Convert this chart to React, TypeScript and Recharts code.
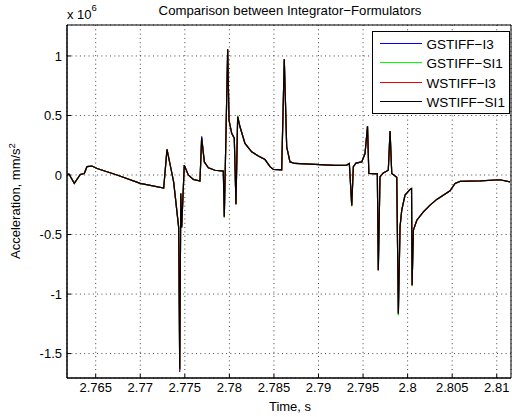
import { CartesianGrid, Line, LineChart, ReferenceArea, XAxis, YAxis } from 'recharts';

// time, s
const time = [
  2.76178, 2.762, 2.7626, 2.76327, 2.76372, 2.76402, 2.76458, 2.76515, 2.76739, 2.77,
  2.77263, 2.773, 2.77348, 2.77375, 2.77431, 2.77443, 2.77455, 2.77465, 2.77494, 2.77539,
  2.77595, 2.7767, 2.77689, 2.77719, 2.77764, 2.77839, 2.77932, 2.77943, 2.77981, 2.77996,
  2.78026, 2.78055, 2.78074, 2.78093, 2.78119, 2.78175, 2.7825, 2.78325, 2.784, 2.78456,
  2.78493, 2.78587, 2.78616, 2.78643, 2.7868, 2.78736, 2.78961, 2.79185, 2.79316, 2.79346,
  2.79373, 2.79391, 2.79421, 2.79485, 2.79522, 2.7955, 2.79565, 2.7966, 2.79671, 2.7969,
  2.79727, 2.79783, 2.79803, 2.79822, 2.79878, 2.79896, 2.79915, 2.79934, 2.79971, 2.80027,
  2.80044, 2.8005, 2.80065, 2.80103, 2.80177, 2.80252, 2.80327, 2.80476, 2.80532, 2.80589,
  2.80813, 2.81036, 2.81149,
];

// acceleration, x 10^6 mm/s^2 (WSTIFF-SI1, drawn on top)
const wstiffSi1 = [
  0.005, 0.008, -0.07, 0.005, 0.013, 0.07, 0.075, 0.055, 0.0, -0.07,
  -0.11, 0.215, 0.04, -0.06, -0.44, -1.63, -0.155, -0.44, 0.083, 0.0,
  -0.037, -0.051, 0.31, 0.11, 0.06, 0.04, 0.033, -0.35, 1.056, 0.46,
  0.35, 0.31, -0.245, 0.49, 0.405, 0.265, 0.195, 0.16, 0.13, 0.07,
  0.047, 0.044, 0.972, 0.237, 0.11, 0.097, 0.089, 0.081, 0.083, 0.097,
  -0.255, 0.07, 0.1, 0.11, 0.18, 0.41, 0.013, 0.01, -0.8, -0.015,
  0.018, 0.04, 0.37, 0.013, -0.02, -1.165, -0.435, -0.295, -0.169, -0.121,
  -0.113, -0.925, -0.463, -0.38, -0.31, -0.253, -0.205, -0.133, -0.071, -0.054,
  -0.049, -0.04, -0.057,
];

// spike tips where the other formulators poke out past the black line
const gstiffI3Tips: Record<number, number> = { 15: -1.655, 22: 0.325, 28: 1.05 };
const gstiffSi1Tips: Record<number, number> = { 27: -0.36, 33: 0.5, 50: -0.265, 65: -1.18, 71: -0.935 };
const wstiffI3Tips: Record<number, number> = { 15: -1.64 };

const gstiffI3 = wstiffSi1.map((v, i) => gstiffI3Tips[i] ?? v);
const gstiffSi1 = wstiffSi1.map((v, i) => gstiffSi1Tips[i] ?? v);
const wstiffI3 = wstiffSi1.map((v, i) => wstiffI3Tips[i] ?? v);

const xTicks = [2.765, 2.77, 2.775, 2.78, 2.785, 2.79, 2.795, 2.8, 2.805, 2.81];
const yTicks = [-1.5, -1, -0.5, 0, 0.5, 1];

const series = [
  { key: 'gstiffI3', name: 'GSTIFF−I3', color: '#0000ff' },
  { key: 'gstiffSi1', name: 'GSTIFF−SI1', color: '#00ff00' },
  { key: 'wstiffI3', name: 'WSTIFF−I3', color: '#ff0000' },
  { key: 'wstiffSi1', name: 'WSTIFF−SI1', color: '#000000' },
];

const data = time.map((t, i) => ({
  t,
  gstiffI3: gstiffI3[i],
  gstiffSi1: gstiffSi1[i],
  wstiffI3: wstiffI3[i],
  wstiffSi1: wstiffSi1[i],
}));

const X_DOMAIN: [number, number] = [2.76178, 2.8116];
const Y_DOMAIN: [number, number] = [-1.705, 1.26];
const FONT = '"Liberation Sans", Arial, sans-serif';

// legend box, drawn in the chart's svg so the sample lines stay crisp
function MatlabLegend() {
  const rows = [43.5, 62.5, 82.5, 101.5];
  return (
    <g>
      <rect x={372.5} y={31.5} width={137} height={82} fill="#fff" stroke="#000" strokeWidth={1} />
      {series.map((s, i) => (
        <g key={s.key}>
          <line x1={380} x2={422} y1={rows[i]} y2={rows[i]} stroke={s.color} strokeWidth={1.2} />
          <text x={426.5} y={rows[i] + 5.3} fontSize={13.5} fontFamily={FONT} fill="#000">
            {s.name}
          </text>
        </g>
      ))}
    </g>
  );
}

export default function App() {
  return (
    <div style={{ position: 'absolute', left: 0, top: 0, width: 512, height: 417, background: '#fff' }}>
      <LineChart width={512} height={417} data={data} margin={{ top: 25, right: 1, bottom: 0, left: 0 }}>
        <CartesianGrid stroke="#444" strokeDasharray="1 3.3" strokeWidth={1} />
        <XAxis
          dataKey="t"
          type="number"
          domain={X_DOMAIN}
          ticks={xTicks}
          allowDataOverflow
          height={39}
          tickSize={-4}
          tickMargin={9}
          stroke="#000"
          tick={{ fill: '#000', fontSize: 13, fontFamily: FONT }}
          tickFormatter={(v: number) => String(v)}
        />
        <YAxis
          type="number"
          domain={Y_DOMAIN}
          ticks={yTicks}
          allowDataOverflow
          width={67}
          tickSize={-4}
          tickMargin={9}
          stroke="#000"
          tick={{ fill: '#000', fontSize: 13, fontFamily: FONT }}
          tickFormatter={(v: number) => String(v)}
        />
        <ReferenceArea x1={X_DOMAIN[0]} x2={X_DOMAIN[1]} y1={Y_DOMAIN[0]} y2={Y_DOMAIN[1]} fill="none" stroke="#000" strokeWidth={1} />
        {series.map((s) => (
          <Line
            key={s.key}
            dataKey={s.key}
            name={s.name}
            stroke={s.color}
            strokeWidth={1.2}
            dot={false}
            type="linear"
            isAnimationActive={false}
          />
        ))}
        <MatlabLegend />
        <text x={290} y={14.5} textAnchor="middle" fontSize={13.2} fontFamily={FONT} fill="#000">
          Comparison between Integrator−Formulators
        </text>
        <text x={67} y={19} fontSize={13} fontFamily={FONT} fill="#000">
          x 10
          <tspan fontSize={9.5} dy={-8.5}>6</tspan>
        </text>
        <text x={290} y={410.5} textAnchor="middle" fontSize={13} fontFamily={FONT} fill="#000">
          Time, s
        </text>
        <text x={0} y={0} transform="translate(19.5 201) rotate(-90)" textAnchor="middle" fontSize={13} fontFamily={FONT} fill="#000">
          Acceleration, mm/s
          <tspan fontSize={9.5} dy={-5}>2</tspan>
        </text>
      </LineChart>
    </div>
  );
}
